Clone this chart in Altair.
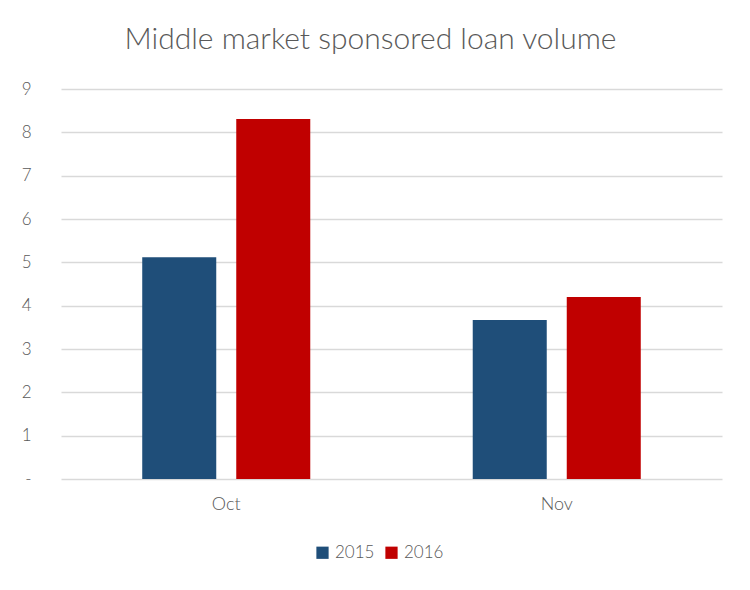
import altair as alt
import pandas as pd

months = ["Oct", "Oct", "Nov", "Nov"]
years = ["2015", "2016", "2015", "2016"]
values = [5.12, 8.31, 3.67, 4.20]

df = pd.DataFrame({"month": months, "year": years, "value": values})

FONT = "Lato"
GRAY = "#595959"

chart = alt.Chart(df).mark_bar().encode(
    x=alt.X("month:N", sort=["Oct", "Nov"],
            scale=alt.Scale(paddingInner=0, paddingOuter=0),
            axis=alt.Axis(title=None, labelAngle=0, domain=False, ticks=False,
                          labelPadding=16, labelFontSize=18, labelColor=GRAY,
                          labelFont=FONT, labelFontWeight=300)),
    xOffset=alt.XOffset("year:N",
                        scale=alt.Scale(paddingInner=0.2128, paddingOuter=0.864)),
    y=alt.Y("value:Q", scale=alt.Scale(domain=[0, 9], nice=False),
            axis=alt.Axis(title=None, values=list(range(10)), domain=False, ticks=False,
                          labelPadding=30, labelFontSize=17, labelColor=GRAY,
                          labelFont=FONT, labelFontWeight=300,
                          gridColor="#d9d9d9", gridWidth=1.5,
                          labelExpr="datum.value == 0 ? '-' : datum.label")),
    color=alt.Color("year:N",
                    scale=alt.Scale(domain=["2015", "2016"], range=["#1f4e79", "#c00000"]),
                    legend=alt.Legend(title=None, orient="none", direction="horizontal",
                                      legendX=253, legendY=455,
                                      symbolType="square", symbolSize=150,
                                      symbolStrokeWidth=0,
                                      labelFontSize=17, labelColor=GRAY, labelFont=FONT,
                                      labelFontWeight=300,
                                      columnPadding=8, labelOffset=4)),
).properties(
    width=661,
    height=390,
    title=alt.TitleParams("Middle market sponsored loan volume", fontSize=30,
                          font=FONT, fontWeight=300, color=GRAY,
                          anchor="middle", offset=25, dx=-21),
    autosize=alt.AutoSizeParams(type="none"),
    padding={"left": 53, "top": 81, "right": 20, "bottom": 100},
).configure_view(stroke=None)

chart.save("out.html", embed_options={"renderer": "svg", "actions": False})
